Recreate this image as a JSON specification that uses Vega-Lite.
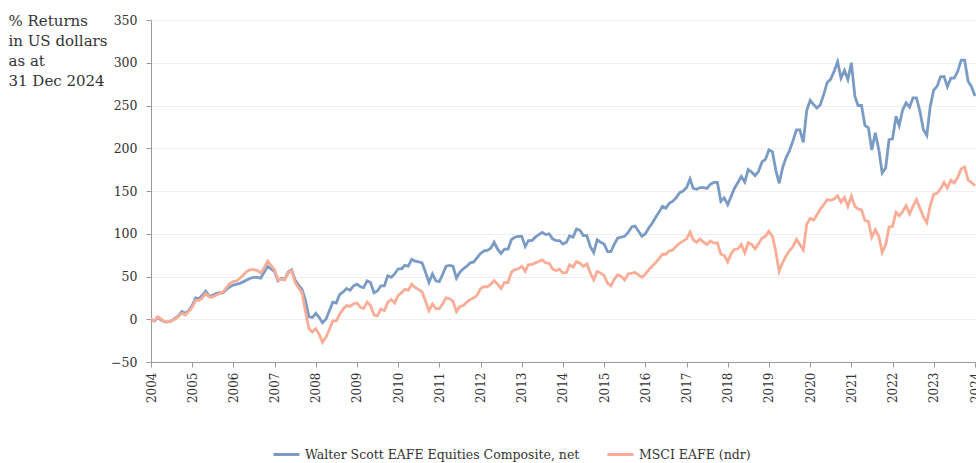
{
  "$schema": "https://vega.github.io/schema/vega-lite/v6.json",
  "width": 824,
  "height": 342,
  "autosize": {"type": "none"},
  "padding": {"left": 151, "top": 20, "right": 1, "bottom": 101},
  "background": "white",
  "config": {"font": "DejaVu Serif", "view": {"stroke": null}},
  "data": {"values": [
    {"d":"2004-12-31","ws":0,"ms":0},
    {"d":"2005-01-31","ws":-2,"ms":-2},{"d":"2005-02-28","ws":2,"ms":3},{"d":"2005-03-31","ws":-1,"ms":0},{"d":"2005-04-30","ws":-3,"ms":-3},{"d":"2005-05-31","ws":-3,"ms":-3},{"d":"2005-06-30","ws":-2,"ms":-2},{"d":"2005-07-31","ws":1,"ms":0},{"d":"2005-08-31","ws":4,"ms":3},{"d":"2005-09-30","ws":9,"ms":7},{"d":"2005-10-31","ws":7,"ms":5},{"d":"2005-11-30","ws":10,"ms":9},{"d":"2005-12-31","ws":16,"ms":14},
    {"d":"2006-01-31","ws":25,"ms":22},{"d":"2006-02-28","ws":24,"ms":22},{"d":"2006-03-31","ws":28,"ms":25},{"d":"2006-04-30","ws":33,"ms":30},{"d":"2006-05-31","ws":27,"ms":26},{"d":"2006-06-30","ws":28,"ms":26},{"d":"2006-07-31","ws":30,"ms":28},{"d":"2006-08-31","ws":31,"ms":30},{"d":"2006-09-30","ws":31,"ms":32},{"d":"2006-10-31","ws":35,"ms":37},{"d":"2006-11-30","ws":38,"ms":42},{"d":"2006-12-31","ws":40,"ms":44},
    {"d":"2007-01-31","ws":41,"ms":45},{"d":"2007-02-28","ws":42,"ms":48},{"d":"2007-03-31","ws":44,"ms":52},{"d":"2007-04-30","ws":46,"ms":56},{"d":"2007-05-31","ws":48,"ms":58},{"d":"2007-06-30","ws":49,"ms":58},{"d":"2007-07-31","ws":49,"ms":57},{"d":"2007-08-31","ws":48,"ms":54},{"d":"2007-09-30","ws":55,"ms":60},{"d":"2007-10-31","ws":62,"ms":68},{"d":"2007-11-30","ws":59,"ms":63},{"d":"2007-12-31","ws":56,"ms":58},
    {"d":"2008-01-31","ws":45,"ms":46},{"d":"2008-02-29","ws":48,"ms":47},{"d":"2008-03-31","ws":47,"ms":46},{"d":"2008-04-30","ws":55,"ms":54},{"d":"2008-05-31","ws":58,"ms":57},{"d":"2008-06-30","ws":46,"ms":43},{"d":"2008-07-31","ws":40,"ms":37},{"d":"2008-08-31","ws":35,"ms":31},{"d":"2008-09-30","ws":22,"ms":9},{"d":"2008-10-31","ws":3,"ms":-11},{"d":"2008-11-30","ws":2,"ms":-15},{"d":"2008-12-31","ws":7,"ms":-11},
    {"d":"2009-01-31","ws":2,"ms":-18},{"d":"2009-02-28","ws":-4,"ms":-27},{"d":"2009-03-31","ws":0,"ms":-21},{"d":"2009-04-30","ws":10,"ms":-12},{"d":"2009-05-31","ws":20,"ms":-2},{"d":"2009-06-30","ws":19,"ms":-2},{"d":"2009-07-31","ws":29,"ms":6},{"d":"2009-08-31","ws":32,"ms":12},{"d":"2009-09-30","ws":36,"ms":16},{"d":"2009-10-31","ws":34,"ms":15},{"d":"2009-11-30","ws":39,"ms":18},{"d":"2009-12-31","ws":41,"ms":19},
    {"d":"2010-01-31","ws":38,"ms":14},{"d":"2010-02-28","ws":37,"ms":12.5},{"d":"2010-03-31","ws":45,"ms":20},{"d":"2010-04-30","ws":43,"ms":16},{"d":"2010-05-31","ws":31,"ms":5},{"d":"2010-06-30","ws":33,"ms":4},{"d":"2010-07-31","ws":39,"ms":12},{"d":"2010-08-31","ws":39,"ms":10},{"d":"2010-09-30","ws":51,"ms":20},{"d":"2010-10-31","ws":49,"ms":23},{"d":"2010-11-30","ws":53,"ms":19},{"d":"2010-12-31","ws":59,"ms":28},
    {"d":"2011-01-31","ws":59,"ms":31},{"d":"2011-02-28","ws":63,"ms":35},{"d":"2011-03-31","ws":62,"ms":34},{"d":"2011-04-30","ws":70,"ms":41},{"d":"2011-05-31","ws":68,"ms":37},{"d":"2011-06-30","ws":67,"ms":35},{"d":"2011-07-31","ws":66,"ms":32},{"d":"2011-08-31","ws":55,"ms":21},{"d":"2011-09-30","ws":43,"ms":10},{"d":"2011-10-31","ws":53,"ms":18},{"d":"2011-11-30","ws":45,"ms":12.5},{"d":"2011-12-31","ws":44,"ms":12.5},
    {"d":"2012-01-31","ws":53,"ms":18},{"d":"2012-02-29","ws":62,"ms":25},{"d":"2012-03-31","ws":63,"ms":24},{"d":"2012-04-30","ws":62,"ms":21},{"d":"2012-05-31","ws":48,"ms":9},{"d":"2012-06-30","ws":55,"ms":15},{"d":"2012-07-31","ws":59,"ms":16},{"d":"2012-08-31","ws":62,"ms":20},{"d":"2012-09-30","ws":66,"ms":23},{"d":"2012-10-31","ws":67,"ms":25},{"d":"2012-11-30","ws":72,"ms":28},{"d":"2012-12-31","ws":77,"ms":36},
    {"d":"2013-01-31","ws":80,"ms":38},{"d":"2013-02-28","ws":80.5,"ms":38},{"d":"2013-03-31","ws":83,"ms":41},{"d":"2013-04-30","ws":90,"ms":45},{"d":"2013-05-31","ws":82,"ms":41},{"d":"2013-06-30","ws":77,"ms":36},{"d":"2013-07-31","ws":82,"ms":43},{"d":"2013-08-31","ws":82,"ms":43},{"d":"2013-09-30","ws":93,"ms":55},{"d":"2013-10-31","ws":96,"ms":58},{"d":"2013-11-30","ws":97,"ms":59},{"d":"2013-12-31","ws":97,"ms":62},
    {"d":"2014-01-31","ws":85,"ms":56},{"d":"2014-02-28","ws":92,"ms":64},{"d":"2014-03-31","ws":92,"ms":64},{"d":"2014-04-30","ws":96,"ms":66},{"d":"2014-05-31","ws":99,"ms":67.5},{"d":"2014-06-30","ws":101.5,"ms":69.5},{"d":"2014-07-31","ws":99,"ms":66},{"d":"2014-08-31","ws":100,"ms":65.6},{"d":"2014-09-30","ws":94,"ms":58.6},{"d":"2014-10-31","ws":92,"ms":57},{"d":"2014-11-30","ws":92,"ms":58.6},{"d":"2014-12-31","ws":88,"ms":54},
    {"d":"2015-01-31","ws":90,"ms":54.7},{"d":"2015-02-28","ws":97.7,"ms":63.7},{"d":"2015-03-31","ws":96,"ms":61},{"d":"2015-04-30","ws":105.5,"ms":67.6},{"d":"2015-05-31","ws":104,"ms":65.6},{"d":"2015-06-30","ws":97.7,"ms":61.7},{"d":"2015-07-31","ws":97.7,"ms":64.8},{"d":"2015-08-31","ws":85,"ms":54},{"d":"2015-09-30","ws":78,"ms":46},{"d":"2015-10-31","ws":93,"ms":56},{"d":"2015-11-30","ws":90,"ms":54},{"d":"2015-12-31","ws":88,"ms":51},
    {"d":"2016-01-31","ws":79,"ms":42},{"d":"2016-02-29","ws":79,"ms":39},{"d":"2016-03-31","ws":88,"ms":47},{"d":"2016-04-30","ws":95,"ms":52},{"d":"2016-05-31","ws":96,"ms":50},{"d":"2016-06-30","ws":97,"ms":46},{"d":"2016-07-31","ws":101.5,"ms":53},{"d":"2016-08-31","ws":108,"ms":54},{"d":"2016-09-30","ws":109,"ms":54.7},{"d":"2016-10-31","ws":103,"ms":52},{"d":"2016-11-30","ws":97,"ms":49},{"d":"2016-12-31","ws":100,"ms":53},
    {"d":"2017-01-31","ws":107,"ms":58},{"d":"2017-02-28","ws":112,"ms":62},{"d":"2017-03-31","ws":119,"ms":66},{"d":"2017-04-30","ws":125,"ms":71},{"d":"2017-05-31","ws":132,"ms":76},{"d":"2017-06-30","ws":130,"ms":76},{"d":"2017-07-31","ws":135.5,"ms":80},{"d":"2017-08-31","ws":138,"ms":81},{"d":"2017-09-30","ws":142,"ms":85.5},{"d":"2017-10-31","ws":148,"ms":89},{"d":"2017-11-30","ws":150,"ms":91.4},{"d":"2017-12-31","ws":154,"ms":94},
    {"d":"2018-01-31","ws":164,"ms":102},{"d":"2018-02-28","ws":153,"ms":93},{"d":"2018-03-31","ws":152,"ms":90},{"d":"2018-04-30","ws":154,"ms":94},{"d":"2018-05-31","ws":154,"ms":90},{"d":"2018-06-30","ws":153,"ms":87.5},{"d":"2018-07-31","ws":158,"ms":91.4},{"d":"2018-08-31","ws":160,"ms":89},{"d":"2018-09-30","ws":160,"ms":89.5},{"d":"2018-10-31","ws":138,"ms":76},{"d":"2018-11-30","ws":142,"ms":74.6},{"d":"2018-12-31","ws":134,"ms":67},
    {"d":"2019-01-31","ws":144,"ms":77},{"d":"2019-02-28","ws":153,"ms":81.6},{"d":"2019-03-31","ws":160,"ms":82.4},{"d":"2019-04-30","ws":167,"ms":87.5},{"d":"2019-05-31","ws":160.5,"ms":77.7},{"d":"2019-06-30","ws":175,"ms":89.5},{"d":"2019-07-31","ws":172,"ms":87.5},{"d":"2019-08-31","ws":168,"ms":82.4},{"d":"2019-09-30","ws":173,"ms":88.7},{"d":"2019-10-31","ws":184,"ms":95},{"d":"2019-11-30","ws":187,"ms":97},{"d":"2019-12-31","ws":198,"ms":103},
    {"d":"2020-01-31","ws":196,"ms":97},{"d":"2020-02-29","ws":175,"ms":80},{"d":"2020-03-31","ws":159,"ms":56},{"d":"2020-04-30","ws":177,"ms":66},{"d":"2020-05-31","ws":189,"ms":74},{"d":"2020-06-30","ws":197,"ms":80},{"d":"2020-07-31","ws":208.6,"ms":85},{"d":"2020-08-31","ws":221.5,"ms":93.4},{"d":"2020-09-30","ws":221.5,"ms":87.5},{"d":"2020-10-31","ws":207,"ms":81},{"d":"2020-11-30","ws":244,"ms":111},{"d":"2020-12-31","ws":256,"ms":118},
    {"d":"2021-01-31","ws":251,"ms":116},{"d":"2021-02-28","ws":247,"ms":122},{"d":"2021-03-31","ws":251,"ms":129},{"d":"2021-04-30","ws":263,"ms":134},{"d":"2021-05-31","ws":277,"ms":140},{"d":"2021-06-30","ws":280.5,"ms":139},{"d":"2021-07-31","ws":290,"ms":140.6},{"d":"2021-08-31","ws":301,"ms":144.5},{"d":"2021-09-30","ws":282,"ms":137},{"d":"2021-10-31","ws":291,"ms":142.6},{"d":"2021-11-30","ws":280.5,"ms":132},{"d":"2021-12-31","ws":300,"ms":144},
    {"d":"2022-01-31","ws":261,"ms":132},{"d":"2022-02-28","ws":250,"ms":129},{"d":"2022-03-31","ws":250,"ms":128},{"d":"2022-04-30","ws":226.6,"ms":115.6},{"d":"2022-05-31","ws":224,"ms":114.5},{"d":"2022-06-30","ws":198,"ms":96},{"d":"2022-07-31","ws":218,"ms":104.7},{"d":"2022-08-31","ws":198.4,"ms":97},{"d":"2022-09-30","ws":171,"ms":78},{"d":"2022-10-31","ws":177,"ms":87},{"d":"2022-11-30","ws":210,"ms":108},{"d":"2022-12-31","ws":211,"ms":108.6},
    {"d":"2023-01-31","ws":237.5,"ms":125},{"d":"2023-02-28","ws":226.6,"ms":121},{"d":"2023-03-31","ws":245,"ms":126},{"d":"2023-04-30","ws":253,"ms":133},{"d":"2023-05-31","ws":248,"ms":123.4},{"d":"2023-06-30","ws":259,"ms":132},{"d":"2023-07-31","ws":259,"ms":140},{"d":"2023-08-31","ws":243,"ms":130},{"d":"2023-09-30","ws":222,"ms":120},{"d":"2023-10-31","ws":215,"ms":113},{"d":"2023-11-30","ws":249,"ms":133},{"d":"2023-12-31","ws":268,"ms":146},
    {"d":"2024-01-31","ws":272.7,"ms":147.6},{"d":"2024-02-29","ws":283.6,"ms":152.3},{"d":"2024-03-31","ws":284,"ms":160},{"d":"2024-04-30","ws":272,"ms":153.5},{"d":"2024-05-31","ws":282,"ms":162.5},{"d":"2024-06-30","ws":282,"ms":159.4},{"d":"2024-07-31","ws":290,"ms":166},{"d":"2024-08-31","ws":303,"ms":176},{"d":"2024-09-30","ws":303,"ms":178},{"d":"2024-10-31","ws":278.5,"ms":163},{"d":"2024-11-30","ws":272,"ms":160},{"d":"2024-12-31","ws":261,"ms":156}
  ]},
  "transform": [{"fold": ["ws", "ms"], "as": ["series", "value"]}],
  "mark": {"type": "line", "strokeWidth": 2.8},
  "encoding": {
    "x": {
      "field": "d", "type": "temporal",
      "scale": {"domain": [{"year": 2004, "month": 12, "date": 31}, {"year": 2024, "month": 12, "date": 31}], "nice": false},
      "axis": {
        "values": [
          {"year": 2004, "month": 12, "date": 31}, {"year": 2005, "month": 12, "date": 31}, {"year": 2006, "month": 12, "date": 31},
          {"year": 2007, "month": 12, "date": 31}, {"year": 2008, "month": 12, "date": 31}, {"year": 2009, "month": 12, "date": 31},
          {"year": 2010, "month": 12, "date": 31}, {"year": 2011, "month": 12, "date": 31}, {"year": 2012, "month": 12, "date": 31},
          {"year": 2013, "month": 12, "date": 31}, {"year": 2014, "month": 12, "date": 31}, {"year": 2015, "month": 12, "date": 31},
          {"year": 2016, "month": 12, "date": 31}, {"year": 2017, "month": 12, "date": 31}, {"year": 2018, "month": 12, "date": 31},
          {"year": 2019, "month": 12, "date": 31}, {"year": 2020, "month": 12, "date": 31}, {"year": 2021, "month": 12, "date": 31},
          {"year": 2022, "month": 12, "date": 31}, {"year": 2023, "month": 12, "date": 31}, {"year": 2024, "month": 12, "date": 31}
        ],
        "format": "%Y",
        "labelAngle": -90, "labelAlign": "right", "labelBaseline": "middle",
        "labelPadding": 5, "tickSize": 5, "grid": false, "title": null,
        "domainColor": "#9a9a9a", "tickColor": "#9a9a9a",
        "labelColor": "#333333", "labelFontSize": 12, "labelFont": "DejaVu Serif",
        "labelOverlap": false, "labelFlush": false
      }
    },
    "y": {
      "field": "value", "type": "quantitative",
      "scale": {"domain": [-50, 350], "nice": false, "zero": false},
      "axis": {
        "values": [-50, 0, 50, 100, 150, 200, 250, 300, 350],
        "title": ["% Returns", "in US dollars", "as at", "31 Dec 2024"],
        "titleAngle": 0, "titleAlign": "left", "titleBaseline": "alphabetic",
        "titleX": -143, "titleY": 5, "titleFontSize": 15, "titleFontWeight": "normal",
        "titleLineHeight": 20, "titleColor": "#333333", "titleFont": "DejaVu Serif",
        "gridColor": "#eeeeee", "domainColor": "#9a9a9a", "tickColor": "#9a9a9a",
        "tickSize": 5, "labelPadding": 9, "labelFontSize": 12.5, "labelColor": "#333333",
        "labelFont": "DejaVu Serif"
      }
    },
    "color": {
      "field": "series", "type": "nominal",
      "scale": {"domain": ["ws", "ms"], "range": ["#7a9bc4", "#f9ad97"]},
      "legend": {
        "orient": "none", "legendX": 121, "legendY": 420, "direction": "horizontal",
        "title": null, "symbolType": "stroke", "symbolSize": 676, "symbolStrokeWidth": 3,
        "labelExpr": "datum.value == 'ws' ? 'Walter Scott EAFE Equities Composite, net' : 'MSCI EAFE (ndr)'",
        "labelFontSize": 12.5, "labelColor": "#333333", "labelFont": "DejaVu Serif",
        "columnPadding": 21, "labelOffset": 4, "labelLimit": 400
      }
    }
  }
}
